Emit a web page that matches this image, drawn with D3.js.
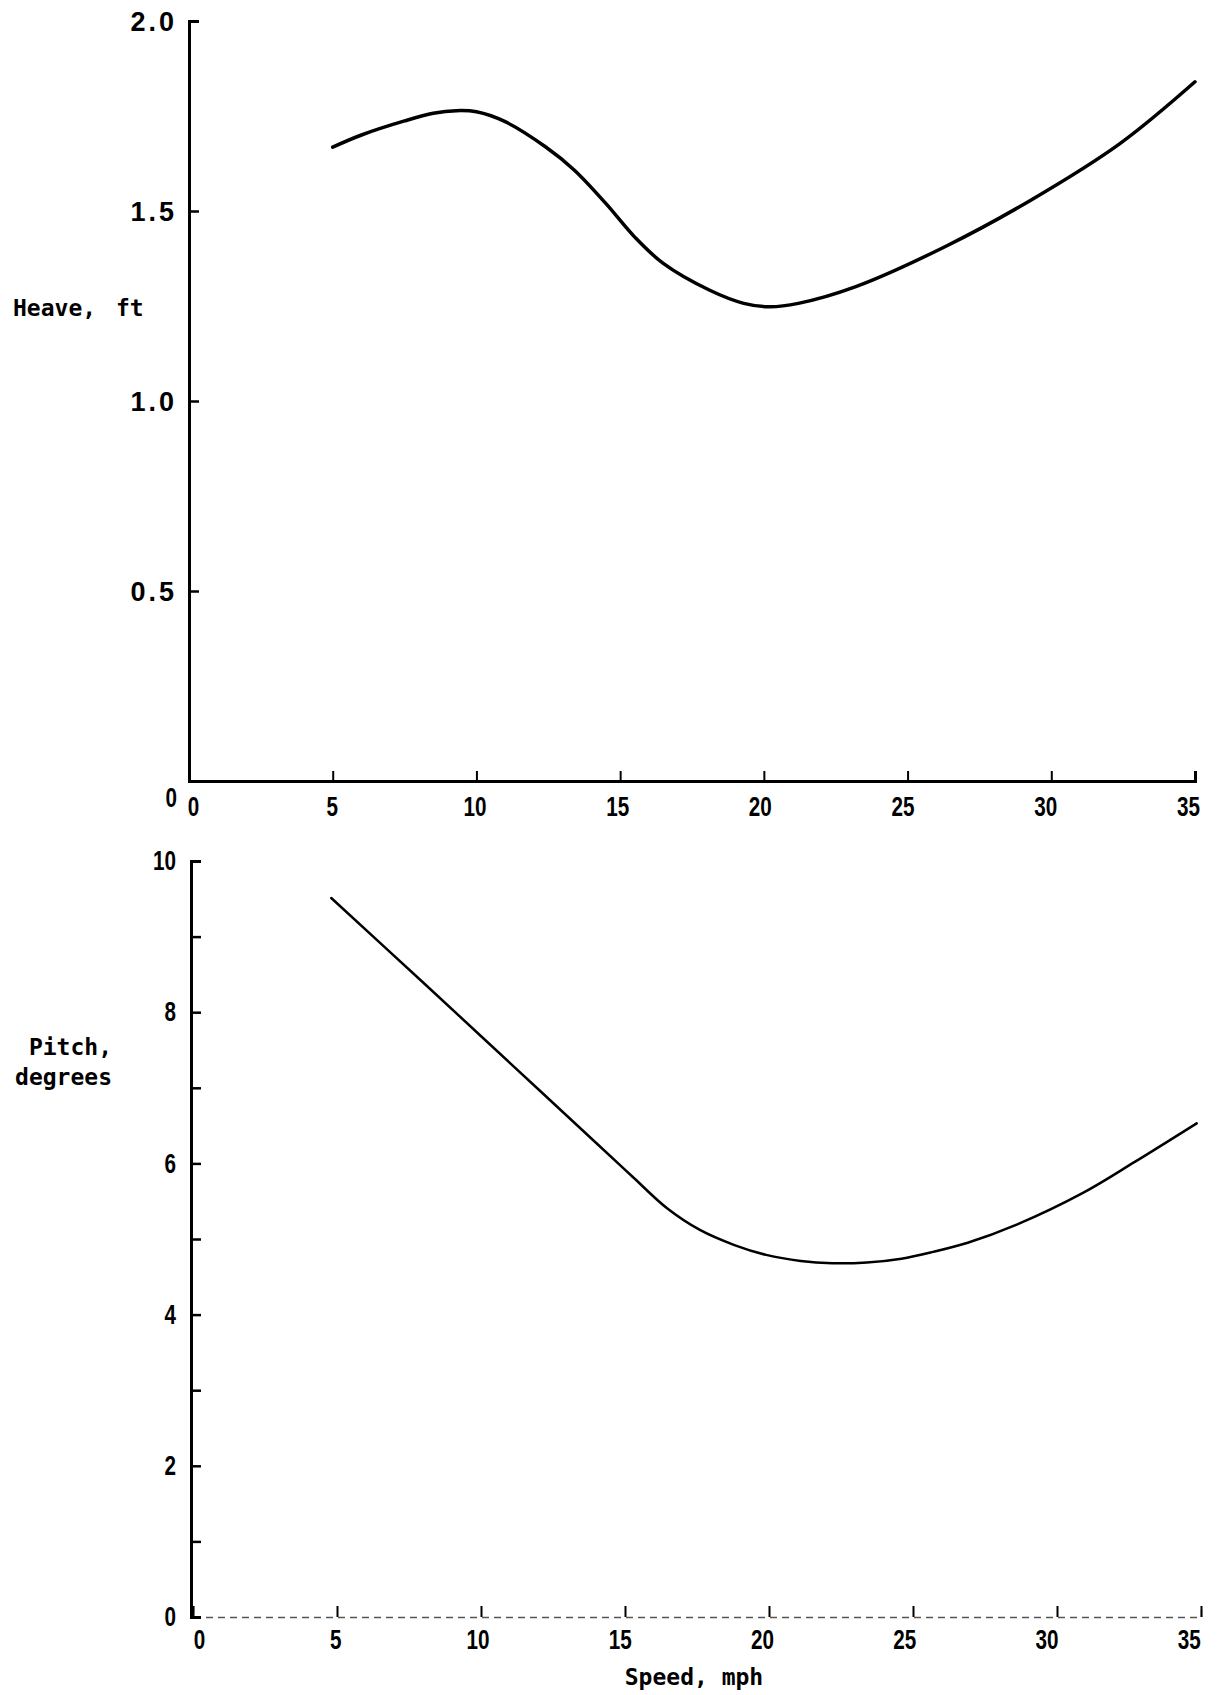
<!DOCTYPE html>
<html>
<head>
<meta charset="utf-8">
<script src="https://cdn.jsdelivr.net/npm/d3@7"></script>
<style>
  html, body { margin: 0; padding: 0; background: #fff; }
  .tick text { font-family: "Liberation Sans", sans-serif; font-weight: bold; font-size: 27px; fill: #000; }
  .lbl { font-family: "DejaVu Sans Mono", monospace; font-weight: bold; font-size: 23px; fill: #000; }
</style>
</head>
<body>
<svg id="chart" width="1218" height="1695"></svg>
<script>
// ---- data ----
const speedTicks = [0, 5, 10, 15, 20, 25, 30, 35];
const heaveTicks = [0, 0.5, 1.0, 1.5, 2.0];
const heaveTickLabels = ["0", "0.5", "1.0", "1.5", "2.0"];
const pitchTicks = [0, 1, 2, 3, 4, 5, 6, 7, 8, 9, 10];
const pitchTickLabels = ["0", "", "2", "", "4", "", "6", "", "8", "", "10"];

const heaveSpeed = [5, 6, 7.5, 8.5, 9.3, 10, 11, 12.4, 13.4, 14.5, 15.5, 16.5, 18.1, 19.3, 20.2, 21.2, 23.2, 26.3, 29.3, 32.4, 35];
const heaveFt    = [1.668, 1.700, 1.737, 1.757, 1.764, 1.761, 1.735, 1.669, 1.608, 1.520, 1.432, 1.362, 1.292, 1.257, 1.248, 1.257, 1.301, 1.406, 1.529, 1.678, 1.840];

const pitchSpeed = [4.8, 8, 11, 14, 15.3, 16.45, 17.6, 18.8, 19.9, 21.1, 22.2, 23.4, 24.6, 25.7, 26.9, 28.6, 30.9, 32.7, 34.85];
const pitchDeg   = [9.51, 8.39, 7.33, 6.27, 5.81, 5.41, 5.12, 4.92, 4.79, 4.71, 4.68, 4.69, 4.74, 4.83, 4.95, 5.19, 5.61, 6.02, 6.53];

const xLabel = "Speed, mph";
const heaveLabel = "Heave, ft";
const pitchLabel = ["Pitch,", "degrees"];

// ---- drawing ----
const svg = d3.select("#chart");

function styleTickText(sel) {
  sel.each(function () {
    const t = d3.select(this);
    const s = t.text();
    if (!s) return;
    if (s.indexOf(".") < 0) {
      t.attr("textLength", s.length * 11.5).attr("lengthAdjust", "spacingAndGlyphs");
    } else {
      t.style("letter-spacing", "3px");
    }
  });
}

// Top panel
const x1 = d3.scaleLinear().domain([0, 35]).range([189, 1195]);
const y1 = d3.scaleLinear().domain([0, 2]).range([781, 21]);

const gx1 = svg.append("g").attr("transform", `translate(0,${y1(0)})`)
  .call(d3.axisBottom(x1).tickValues(speedTicks).tickSize(-10).tickPadding(16).tickFormat(d3.format("d")));
gx1.select(".domain").attr("stroke", "#000").attr("stroke-width", 3);
gx1.selectAll(".tick line").attr("stroke", "#000").attr("stroke-width", 2);
gx1.selectAll(".tick text").attr("dx", (d) => d === 0 ? 4 : -d * 0.2).call(styleTickText);

const gy1 = svg.append("g").attr("transform", `translate(${x1(0)},0)`)
  .call(d3.axisLeft(y1).tickValues(heaveTicks).tickSize(-10).tickPadding(12)
    .tickFormat((d, i) => heaveTickLabels[i]));
gy1.select(".domain").attr("stroke", "#000").attr("stroke-width", 3);
gy1.selectAll(".tick line").attr("stroke", "#000").attr("stroke-width", 2.5);
gy1.selectAll(".tick text").attr("dy", (d) => d === 0 ? "0.95em" : "0.35em").call(styleTickText);

// Bottom panel
const x2 = d3.scaleLinear().domain([0, 35]).range([193, 1201]);
const y2 = d3.scaleLinear().domain([0, 10]).range([1617, 861]);

const gx2 = svg.append("g").attr("transform", `translate(0,${y2(0)})`)
  .call(d3.axisBottom(x2).tickValues(speedTicks).tickSize(-11).tickPadding(13).tickFormat(d3.format("d")));
gx2.select(".domain").attr("stroke", "#555").attr("stroke-width", 1.5).attr("stroke-dasharray", "7,5");
gx2.selectAll(".tick line").attr("stroke", "#000").attr("stroke-width", 2);
gx2.selectAll(".tick text").attr("dx", (d) => d === 0 ? 6 : -d * 0.35).call(styleTickText);

const gy2 = svg.append("g").attr("transform", `translate(${x2(0) - 2},0)`)
  .call(d3.axisLeft(y2).tickValues(pitchTicks).tickSize(-10).tickPadding(15)
    .tickFormat((d, i) => pitchTickLabels[i]));
gy2.select(".domain").attr("stroke", "#000").attr("stroke-width", 3);
gy2.selectAll(".tick line").attr("stroke", "#000").attr("stroke-width", 2.5);
gy2.selectAll(".tick text").call(styleTickText);

// Curves
const heaveData = heaveSpeed.map((s, i) => [s, heaveFt[i]]);
const pitchData = pitchSpeed.map((s, i) => [s, pitchDeg[i]]);

svg.append("path").datum(heaveData)
  .attr("fill", "none").attr("stroke", "#000").attr("stroke-width", 3.5).attr("stroke-linecap", "round")
  .attr("d", d3.line().x(d => x1(d[0])).y(d => y1(d[1])).curve(d3.curveCatmullRom.alpha(0.5)));

svg.append("path").datum(pitchData)
  .attr("fill", "none").attr("stroke", "#000").attr("stroke-width", 2.5).attr("stroke-linecap", "round")
  .attr("d", d3.line().x(d => x2(d[0])).y(d => y2(d[1])).curve(d3.curveCatmullRom.alpha(0.5)));

// Axis titles
svg.append("text").attr("class", "lbl").attr("x", 13).attr("y", 316)
  .style("word-spacing", "6px").text(heaveLabel);

svg.append("text").attr("class", "lbl").attr("x", 112).attr("y", 1055).attr("text-anchor", "end").text(pitchLabel[0]);
svg.append("text").attr("class", "lbl").attr("x", 112).attr("y", 1085).attr("text-anchor", "end").text(pitchLabel[1]);

svg.append("text").attr("class", "lbl").attr("x", 694).attr("y", 1685).attr("text-anchor", "middle").text(xLabel);
</script>
</body>
</html>
